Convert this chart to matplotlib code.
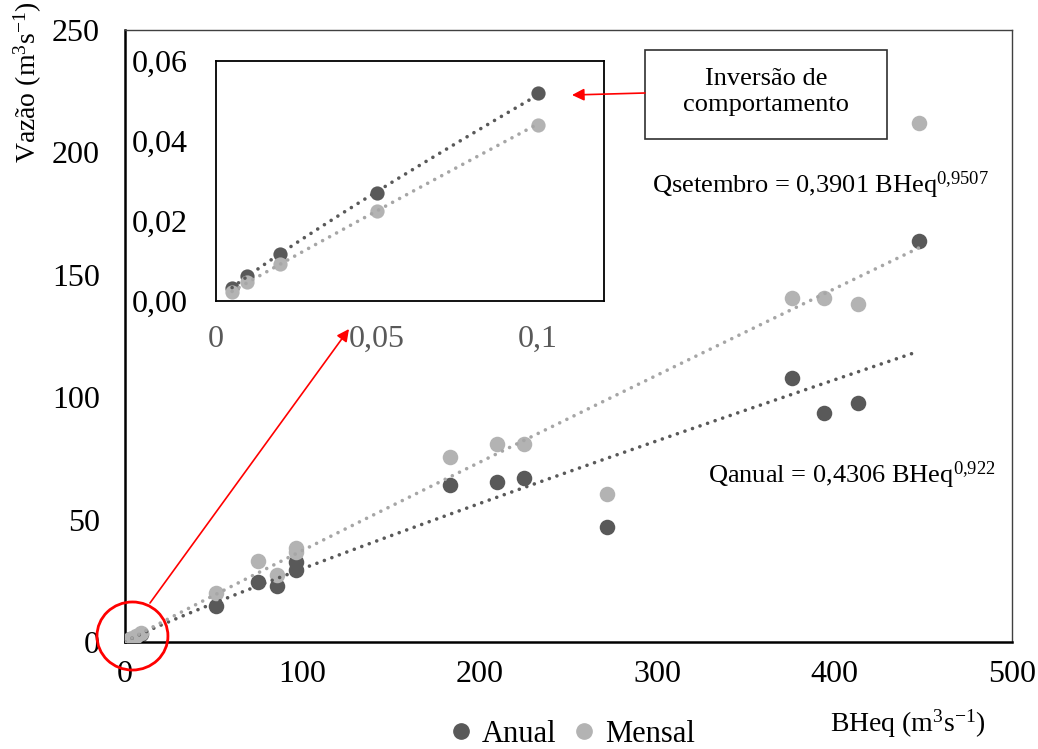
import matplotlib.pyplot as plt
import numpy as np
from matplotlib.patches import Ellipse, Rectangle
from matplotlib.lines import Line2D

plt.rcParams["font.family"] = ["Liberation Serif", "DejaVu Serif"]

# inset data (small basins)
bheq_small = [0.005, 0.0097, 0.02, 0.05, 0.1]
anual_small = [0.0033, 0.0063, 0.0118, 0.027, 0.0519]
mensal_small = [0.0023, 0.0048, 0.0093, 0.0224, 0.0439]

# main data
bheq = [3, 6, 9, 51.3, 75, 85.7, 96.4, 96.4, 183, 209.7, 225, 271.7, 376, 394, 413, 447.6]
anual = [1.2, 2.2, 3.2, 14.7, 24.5, 22.9, 32.7, 29.4, 64, 65.4, 67, 47, 108, 93.5, 97.6, 164]
mensal = [1.3, 2.4, 3.6, 20, 33, 27.4, 38.4, 36.8, 75.6, 81, 81, 60.5, 140.5, 140.5, 138, 212]

eq_anual = "Qanual = 0,4306 BHeq$\\mathregular{^{0{,}922}}$"
eq_mensal = "Qsetembro = 0,3901 BHeq$\\mathregular{^{0{,}9507}}$"

dark = "#595959"
light = "#b3b3b3"
dark_line = "#595959"
light_line = "#a6a6a6"

W, H = 1038, 749


def fx(px):
    return px / W


def fy(py):
    return 1 - py / H


def power_fit(x, y):
    b, ln_a = np.polyfit(np.log(x), np.log(y), 1)
    return np.exp(ln_a), b


def trend(ax, x, y, color):
    a, b = power_fit(x, y)
    xs = np.linspace(min(x), max(x), 300)
    ax.plot(xs, a * xs ** b, color=color, lw=2.6, linestyle=(0, (0.01, 2.2)),
            dash_capstyle="round", zorder=4)


fig = plt.figure(figsize=(10.38, 7.49), dpi=100)

# ---- main axes
ax = fig.add_axes([fx(125), fy(642), fx(1012) - fx(125), fy(30) - fy(642)])
all_x = bheq_small + bheq
all_a = anual_small + anual
all_m = mensal_small + mensal
ax.scatter(all_x, all_a, s=125, color=dark, linewidths=0, zorder=2)
ax.scatter(all_x, all_m, s=125, color=light, linewidths=0, zorder=3)
trend(ax, all_x, all_a, dark_line)
trend(ax, all_x, all_m, light_line)

ax.set_xlim(0, 500)
ax.set_ylim(0, 250)
ax.set_xticks([0, 100, 200, 300, 400, 500])
ax.set_yticks([0, 50, 100, 150, 200, 250])
ax.tick_params(axis="both", length=0, labelsize=23)
ax.tick_params(axis="x", pad=13)
ax.tick_params(axis="y", pad=18)
for s in ["left", "bottom"]:
    ax.spines[s].set_linewidth(1.8)
    ax.spines[s].set_color("black")
for s in ["top", "right"]:
    ax.spines[s].set_linewidth(1.0)
    ax.spines[s].set_color("#404040")

ax.text(fx(708), fy(475), eq_anual, transform=fig.transFigure, fontsize=19,
        ha="left", va="center")
ax.text(fx(652), fy(185), eq_mensal, transform=fig.transFigure, fontsize=19,
        ha="left", va="center")

fig.text(fx(28), fy(82), "Vazão (m$\\mathregular{^3}$s$\\mathregular{^{-1}}$)",
         rotation=90, fontsize=20, ha="center", va="center")
fig.text(fx(908), fy(724), "BHeq (m$\\mathregular{^3}$s$\\mathregular{^{-1}}$)",
         fontsize=20, ha="center", va="center")

# red circle around the origin
circ = Ellipse((4.2, 2.45), 40, 27.8, fill=False, edgecolor="red", lw=2,
               clip_on=False, zorder=6)
ax.add_patch(circ)

# ---- inset
ins = fig.add_axes([fx(216), fy(301), fx(604) - fx(216), fy(61) - fy(301)])
ins.scatter(bheq_small, anual_small, s=105, color=dark, linewidths=0, zorder=2)
ins.scatter(bheq_small, mensal_small, s=105, color=light, linewidths=0, zorder=3)
trend(ins, bheq_small, anual_small, dark_line)
trend(ins, bheq_small, mensal_small, light_line)
ins.set_xlim(0, 0.1205)
ins.set_ylim(0, 0.06)
ins.set_xticks([0, 0.05, 0.1])
ins.set_xticklabels(["0", "0,05", "0,1"])
ins.set_yticks([0, 0.02, 0.04, 0.06])
ins.set_yticklabels(["0,00", "0,02", "0,04", "0,06"])
ins.tick_params(axis="both", length=0, labelsize=23)
ins.tick_params(axis="x", pad=17, labelcolor=dark)
ins.tick_params(axis="y", pad=20)
for s in ins.spines.values():
    s.set_linewidth(1.3)
    s.set_color("black")

# ---- annotation box and arrows
fig.patches.append(Rectangle((fx(645), fy(139)), fx(887) - fx(645), fy(50) - fy(139),
                             transform=fig.transFigure, fill=False,
                             edgecolor="#303030", lw=1.2))
fig.text(fx(766), fy(92), "Inversão de\ncomportamento", fontsize=19,
         ha="center", va="center", linespacing=1.2)

fig.add_artist(plt.Annotation("", xy=(fx(572), fy(95)), xytext=(fx(645), fy(93)),
                              xycoords="figure fraction", textcoords="figure fraction",
                              arrowprops=dict(arrowstyle="-|>", color="red", lw=1.2,
                                              mutation_scale=18, shrinkA=0, shrinkB=0)))
fig.add_artist(plt.Annotation("", xy=(fx(349), fy(329)), xytext=(fx(150), fy(603)),
                              xycoords="figure fraction", textcoords="figure fraction",
                              arrowprops=dict(arrowstyle="-|>", color="red", lw=1.2,
                                              mutation_scale=18, shrinkA=0, shrinkB=0)))

# ---- legend
handles = [Line2D([], [], marker="o", ls="none", color=dark, markersize=11),
           Line2D([], [], marker="o", ls="none", color=light, markersize=11)]
fig.legend(handles, ["Anual", "Mensal"], loc="center", bbox_to_anchor=(fx(572), fy(734)),
           ncol=2, frameon=False, fontsize=22, handlelength=0.8, handletextpad=0.3,
           columnspacing=0.5, borderpad=0)

fig.savefig("out.png", dpi=100)
